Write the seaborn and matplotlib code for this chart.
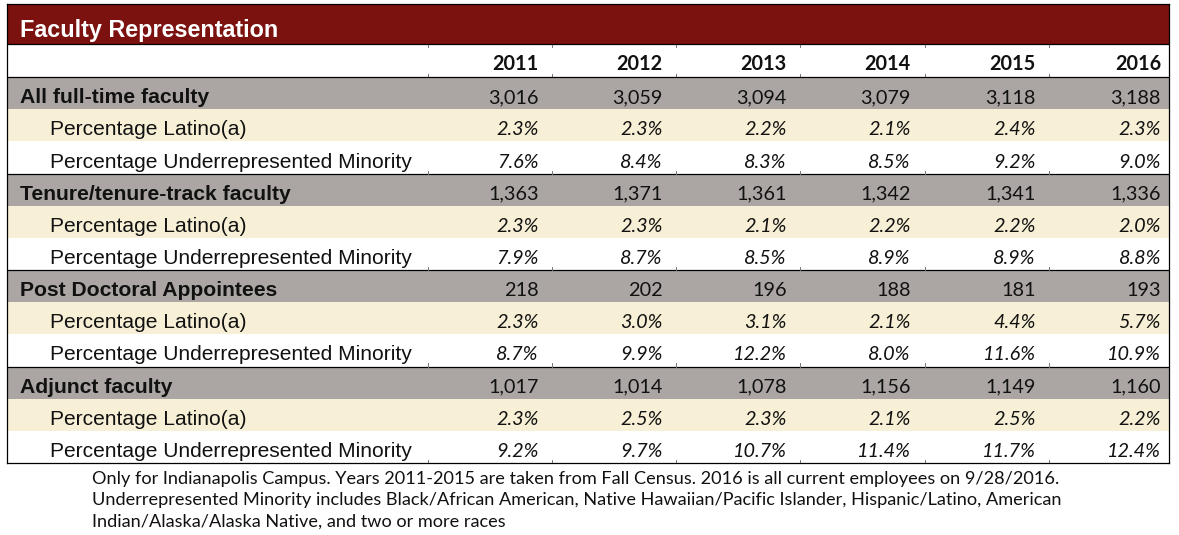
import numpy as np
import pandas as pd
import matplotlib
matplotlib.use("Agg")
import matplotlib.pyplot as plt
import seaborn as sns
from matplotlib.colors import ListedColormap

# ---------------- data ----------------
title = "Faculty Representation"
years = [2011, 2012, 2013, 2014, 2015, 2016]
groups = ["All full-time faculty", "Tenure/tenure-track faculty",
          "Post Doctoral Appointees", "Adjunct faculty"]
sub_labels = ["Percentage Latino(a)", "Percentage Underrepresented Minority"]

headcount = [[3016, 3059, 3094, 3079, 3118, 3188],
             [1363, 1371, 1361, 1342, 1341, 1336],
             [218, 202, 196, 188, 181, 193],
             [1017, 1014, 1078, 1156, 1149, 1160]]
pct_latino = [[2.3, 2.3, 2.2, 2.1, 2.4, 2.3],
              [2.3, 2.3, 2.1, 2.2, 2.2, 2.0],
              [2.3, 3.0, 3.1, 2.1, 4.4, 5.7],
              [2.3, 2.5, 2.3, 2.1, 2.5, 2.2]]
pct_urm = [[7.6, 8.4, 8.3, 8.5, 9.2, 9.0],
           [7.9, 8.7, 8.5, 8.9, 8.9, 8.8],
           [8.7, 9.9, 12.2, 8.0, 11.6, 10.9],
           [9.2, 9.7, 10.7, 11.4, 11.7, 12.4]]

footnote = ["Only for Indianapolis Campus. Years 2011-2015 are taken from Fall Census. 2016 is all current employees on 9/28/2016.",
            "Underrepresented Minority includes Black/African American, Native Hawaiian/Pacific Islander, Hispanic/Latino, American",
            "Indian/Alaska/Alaska Native, and two or more races"]

# ---------------- build the table ----------------
rows = []
for g, name in enumerate(groups):
    rows.append(dict(label=name, kind=0, vals=[f"{v:,}" for v in headcount[g]]))
    rows.append(dict(label=sub_labels[0], kind=1, vals=[f"{v:.1f}%" for v in pct_latino[g]]))
    rows.append(dict(label=sub_labels[1], kind=2, vals=[f"{v:.1f}%" for v in pct_urm[g]]))
table = pd.DataFrame(rows)

RED = "#7B1210"
GRAY = "#ABA6A3"
CREAM = "#F7F0D6"
LABEL_FONT = "Liberation Sans"
NUM_FONT = "Lato"

W, H = 1179, 535
fig = plt.figure(figsize=(W / 100, H / 100), dpi=100)
fig.patch.set_facecolor("white")

# table geometry in pixels
left, right = 7, 1169
top, title_bot, head_bot, bottom = 4, 44, 77, 463
col_edges = [428, 552, 676, 800, 925, 1049]
num_pad = 14


def fx(px):
    return (px - left) / (right - left)


def add_ax(y0, y1):
    return fig.add_axes([left / W, 1 - y1 / H, (right - left) / W, (y1 - y0) / H])


# body rows through a seaborn heatmap of row type
ax = add_ax(head_bot, bottom)
kind_mat = table["kind"].to_numpy()[:, None]
sns.heatmap(kind_mat, cmap=ListedColormap([GRAY, CREAM, "white"]), vmin=-0.5, vmax=2.5,
            cbar=False, xticklabels=False, yticklabels=False, ax=ax)
ax.set_xlim(0, 1)
row_px = (bottom - head_bot) / len(table)
base_off = 6 / row_px

for i, r in table.iterrows():
    yb = i + 1 - base_off
    if r["kind"] == 0:
        ax.text(fx(20), yb, r["label"], fontsize=15.2, fontweight="bold", family=LABEL_FONT,
                va="baseline", ha="left", color="#111111")
        style = "normal"
    else:
        ax.text(fx(50), yb, r["label"], fontsize=15.1, family=LABEL_FONT,
                va="baseline", ha="left", color="#111111")
        style = "italic"
    for j, v in enumerate(r["vals"]):
        xr = col_edges[j] + 124.5 - num_pad if j < 5 else right - 8
        ax.text(fx(xr), yb, v, fontsize=14.3, family=NUM_FONT, style=style,
                va="baseline", ha="right", color="#111111")

# black separators above each group
for g in range(1, len(groups)):
    ax.axhline(3 * g, color="black", lw=0.9)
# faint gridline stubs at column boundaries
for g in range(len(groups) + 1):
    for xe in col_edges:
        ax.plot([fx(xe), fx(xe)], [3 * g - 3 / row_px, 3 * g], color="#777777", lw=0.7,
                clip_on=False)

# header row with years
hax = add_ax(title_bot, head_bot)
hax.set_xlim(0, 1)
hax.set_ylim(1, 0)
hax.axis("off")
for j, yr in enumerate(years):
    xr = col_edges[j] + 124.5 - num_pad if j < 5 else right - 8
    hax.text(fx(xr), 1 - 7 / (head_bot - title_bot), str(yr), fontsize=14.3, fontweight="bold",
             family=NUM_FONT, ha="right", va="baseline", color="#111111")
for xe in col_edges:
    hax.plot([fx(xe), fx(xe)], [1 - 3 / 33, 1], color="#777777", lw=0.7)
    hax.plot([fx(xe), fx(xe)], [0, 3 / 33], color="#777777", lw=0.7)

# title bar
tax = add_ax(top, title_bot)
tax.set_facecolor(RED)
tax.set_xlim(0, 1)
tax.set_ylim(1, 0)
tax.set_xticks([])
tax.set_yticks([])
for s in tax.spines.values():
    s.set_visible(False)
tax.text(fx(20), 1 - 7 / (title_bot - top), title, fontsize=16.8, fontweight="bold",
         family=LABEL_FONT, color="white", ha="left", va="baseline")

# outer frame and main rules
frame = add_ax(top, bottom)
frame.patch.set_visible(False)
frame.set_xticks([])
frame.set_yticks([])
frame.set_xlim(0, 1)
frame.set_ylim(bottom, top)
for s in frame.spines.values():
    s.set_color("black")
    s.set_linewidth(0.9)
frame.axhline(title_bot, color="black", lw=0.9)
frame.axhline(head_bot, color="black", lw=0.9)

# footnote
for k, line in enumerate(footnote):
    fig.text(92 / W, 1 - (484 + 21.5 * k) / H, line, fontsize=13.1, family=NUM_FONT,
             ha="left", va="baseline", color="#111111")

fig.savefig("out.png", dpi=100, facecolor="white")
